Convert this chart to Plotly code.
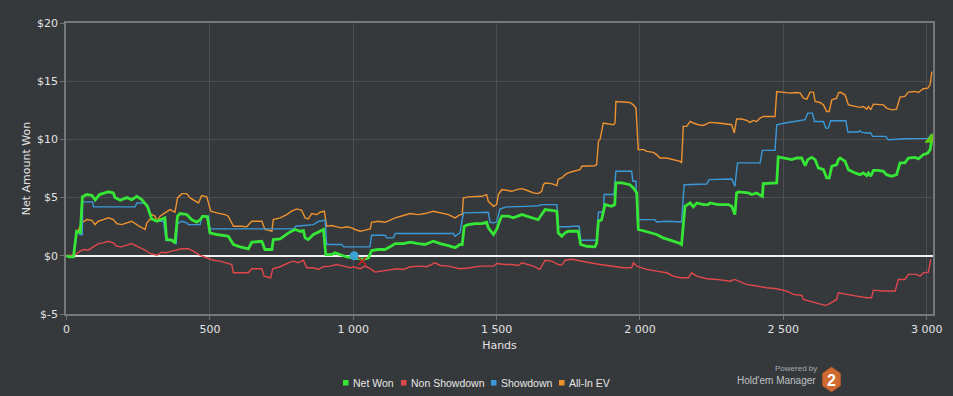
import plotly.graph_objects as go

# ---------------- data ----------------
net_won_hands = [0, 10, 24, 35, 48, 55, 70, 88, 100, 115, 146, 163, 169, 187, 210, 227, 245, 262, 282, 291, 297, 315, 332, 343, 349, 367, 378, 387, 396, 419, 437, 454, 466, 475, 491, 500, 524, 547, 564, 582, 605, 634, 646, 681, 692, 716, 721, 745, 774, 797, 814, 826, 832, 843, 861, 873, 884, 896, 904, 925, 936, 960, 977, 1006, 1035, 1053, 1064, 1087, 1111, 1128, 1146, 1175, 1198, 1227, 1250, 1279, 1303, 1332, 1355, 1372, 1380, 1387, 1401, 1425, 1448, 1465, 1471, 1489, 1500, 1512, 1518, 1541, 1558, 1588, 1605, 1622, 1645, 1657, 1669, 1692, 1710, 1715, 1727, 1739, 1750, 1785, 1793, 1814, 1843, 1849, 1855, 1866, 1878, 1901, 1912, 1916, 1936, 1965, 1977, 1989, 1994, 2018, 2035, 2058, 2081, 2099, 2116, 2134, 2145, 2157, 2175, 2186, 2198, 2221, 2238, 2244, 2273, 2308, 2320, 2331, 2337, 2343, 2378, 2390, 2407, 2419, 2427, 2430, 2471, 2477, 2482, 2506, 2529, 2547, 2564, 2576, 2585, 2599, 2611, 2622, 2640, 2651, 2660, 2669, 2686, 2692, 2698, 2715, 2727, 2750, 2767, 2779, 2791, 2797, 2805, 2814, 2831, 2849, 2860, 2878, 2895, 2907, 2924, 2936, 2959, 2971, 2988, 3004, 3012, 3018]
net_won_values = [0, -0.1, -0.1, 2.1, 2.0, 5.06, 5.26, 5.2, 4.8, 5.26, 5.5, 5.4, 5.0, 4.77, 5.0, 4.83, 5.1, 4.83, 4.25, 3.7, 3.17, 2.97, 3.17, 3.26, 1.4, 1.34, 1.1, 3.4, 3.63, 3.55, 3.1, 2.9, 3.1, 3.4, 3.35, 1.97, 1.83, 1.74, 1.68, 0.97, 0.77, 0.6, 1.17, 1.25, 0.54, 0.54, 1.4, 1.46, 1.97, 2.26, 2.11, 2.17, 1.54, 1.4, 1.83, 1.97, 2.1, 2.26, 0.11, 0.1, 0.26, 0.03, -0.1, -0.17, -0.3, -0.17, 0.45, 0.54, 0.54, 0.77, 1.05, 1.05, 1.17, 1.05, 0.97, 1.25, 1.05, 0.88, 0.69, 0.97, 0.97, 2.54, 2.68, 2.77, 2.77, 2.88, 2.4, 1.83, 2.26, 3.1, 3.4, 3.4, 3.26, 3.54, 3.4, 3.26, 3.1, 3.54, 3.97, 3.91, 3.83, 1.97, 1.68, 1.97, 2.11, 2.11, 0.97, 0.82, 0.77, 1.11, 2.97, 3.1, 4.4, 4.25, 4.4, 6.26, 6.26, 6.11, 5.83, 5.4, 2.26, 2.11, 1.97, 1.83, 1.54, 1.4, 1.25, 1.11, 0.97, 4.25, 4.54, 4.2, 4.54, 4.4, 4.4, 4.54, 4.4, 4.4, 4.25, 3.54, 5.4, 5.49, 5.4, 5.26, 5.4, 5.26, 5.1, 6.2, 6.26, 6.26, 8.49, 8.4, 8.26, 8.4, 8.4, 7.74, 8.26, 8.46, 8.26, 7.55, 7.4, 6.69, 6.69, 7.69, 7.83, 8.26, 8.4, 8.12, 7.4, 7.12, 6.97, 7.12, 6.89, 7.12, 6.83, 7.34, 7.34, 7.26, 6.97, 6.83, 6.97, 7.98, 7.98, 8.4, 8.46, 8.33, 8.69, 8.83, 9.12, 10.0]

non_showdown_hands = [0, 30, 47, 59, 75, 88, 99, 111, 128, 146, 163, 175, 192, 210, 227, 250, 274, 291, 315, 332, 349, 367, 384, 402, 425, 442, 466, 489, 512, 535, 559, 576, 582, 634, 646, 681, 689, 712, 719, 745, 774, 791, 808, 826, 838, 861, 878, 896, 919, 942, 966, 989, 1000, 1024, 1041, 1059, 1076, 1099, 1128, 1152, 1175, 1198, 1233, 1256, 1285, 1303, 1332, 1372, 1407, 1442, 1477, 1489, 1500, 1529, 1553, 1576, 1588, 1628, 1651, 1669, 1692, 1715, 1727, 1739, 1762, 1791, 1826, 1861, 1896, 1942, 1971, 1977, 1989, 2023, 2058, 2093, 2116, 2140, 2169, 2180, 2198, 2233, 2268, 2314, 2330, 2345, 2372, 2407, 2442, 2477, 2512, 2535, 2564, 2570, 2593, 2616, 2645, 2657, 2674, 2686, 2692, 2721, 2756, 2791, 2808, 2814, 2849, 2890, 2901, 2924, 2936, 2965, 2977, 2988, 3006, 3014]
non_showdown_values = [0, 0.1, 0.4, 0.54, 0.48, 0.69, 0.88, 1.05, 1.11, 1.25, 1.11, 0.82, 0.77, 0.88, 1.05, 0.77, 0.48, 0.2, 0.05, 0.31, 0.26, 0.4, 0.48, 0.6, 0.6, 0.4, 0.03, -0.17, -0.38, -0.46, -0.6, -0.75, -1.46, -1.46, -1.11, -1.11, -1.75, -1.89, -1.11, -0.94, -0.6, -0.46, -0.6, -0.38, -1.03, -1.03, -1.17, -0.94, -0.89, -0.75, -0.89, -1.03, -0.94, -1.11, -0.89, -1.11, -1.4, -1.32, -1.23, -1.11, -1.17, -0.94, -0.89, -0.94, -0.6, -0.83, -0.89, -1.11, -1.03, -0.89, -0.89, -0.89, -0.66, -0.75, -0.75, -0.83, -0.6, -0.89, -1.17, -0.38, -0.46, -0.75, -0.8, -0.38, -0.3, -0.46, -0.6, -0.75, -0.89, -1.03, -1.03, -0.6, -0.89, -1.17, -1.32, -1.46, -1.75, -1.89, -1.89, -1.46, -1.75, -1.97, -2.03, -2.18, -2.03, -2.18, -2.46, -2.6, -2.75, -2.83, -3.03, -3.32, -3.4, -3.75, -3.89, -4.09, -4.26, -4.18, -3.89, -3.75, -3.17, -3.32, -3.46, -3.6, -3.6, -2.95, -3.03, -3.03, -2.03, -2.03, -1.6, -1.6, -1.75, -1.46, -1.4, -0.3]

showdown_hands = [0, 10, 24, 35, 41, 48, 55, 56, 91, 94, 239, 245, 274, 285, 294, 309, 338, 347, 378, 382, 387, 402, 419, 425, 466, 471, 495, 500, 727, 790, 800, 861, 880, 902, 907, 960, 966, 1058, 1064, 1111, 1117, 1140, 1146, 1349, 1355, 1372, 1384, 1425, 1431, 1471, 1477, 1489, 1500, 1512, 1535, 1593, 1605, 1645, 1657, 1710, 1715, 1756, 1762, 1788, 1793, 1849, 1855, 1872, 1875, 1909, 1916, 1971, 1975, 1986, 1991, 2052, 2058, 2093, 2140, 2145, 2154, 2233, 2241, 2320, 2331, 2340, 2419, 2427, 2471, 2477, 2506, 2541, 2576, 2585, 2601, 2609, 2640, 2648, 2657, 2665, 2718, 2725, 2762, 2767, 2775, 2791, 2805, 2811, 2857, 2866, 2903, 2924, 3006, 3015, 3018]
showdown_values = [0, -0.1, -0.1, 2.1, 2.0, 1.8, 1.8, 4.63, 4.63, 4.2, 4.2, 4.54, 4.54, 4.2, 3.26, 2.97, 2.97, 1.31, 1.31, 0.97, 2.77, 2.97, 2.83, 2.68, 2.68, 3.4, 3.4, 2.31, 2.31, 2.31, 2.54, 2.68, 2.97, 3.05, 0.97, 0.97, 0.77, 0.77, 1.77, 1.77, 1.54, 1.54, 1.91, 1.91, 1.68, 1.97, 3.69, 3.69, 3.74, 3.74, 2.88, 2.83, 2.9, 4.03, 4.2, 4.2, 4.25, 4.3, 4.4, 4.4, 2.49, 2.49, 2.54, 2.54, 1.34, 1.34, 3.74, 3.74, 5.26, 5.26, 7.26, 7.26, 6.4, 6.4, 3.11, 3.11, 2.91, 2.97, 2.97, 2.91, 6.11, 6.17, 6.54, 6.6, 5.97, 7.98, 7.98, 9.06, 9.06, 11.26, 11.41, 11.54, 11.69, 12.26, 12.26, 11.54, 11.54, 10.97, 10.97, 11.6, 11.6, 10.63, 10.63, 10.75, 10.6, 10.55, 10.55, 10.26, 10.26, 9.97, 10.03, 10.06, 10.09, 10.4, 10.1]

all_in_ev_hands = [0, 10, 24, 35, 41, 48, 53, 70, 88, 99, 111, 128, 146, 163, 175, 192, 210, 227, 250, 262, 274, 280, 291, 297, 309, 315, 326, 343, 361, 378, 387, 402, 419, 431, 448, 460, 471, 489, 495, 503, 524, 553, 564, 582, 611, 628, 646, 681, 692, 716, 721, 745, 768, 785, 803, 820, 832, 843, 855, 873, 884, 899, 907, 925, 942, 960, 977, 995, 1006, 1024, 1041, 1059, 1064, 1087, 1111, 1128, 1146, 1175, 1198, 1227, 1250, 1279, 1303, 1332, 1355, 1372, 1380, 1384, 1401, 1425, 1448, 1465, 1471, 1489, 1500, 1506, 1518, 1535, 1553, 1570, 1588, 1605, 1628, 1645, 1657, 1663, 1669, 1692, 1710, 1715, 1727, 1739, 1750, 1768, 1791, 1797, 1826, 1843, 1849, 1855, 1861, 1872, 1907, 1913, 1916, 1954, 1965, 1977, 1986, 1994, 2014, 2023, 2047, 2058, 2070, 2093, 2105, 2122, 2140, 2145, 2151, 2163, 2175, 2186, 2203, 2221, 2238, 2244, 2273, 2297, 2320, 2329, 2337, 2355, 2372, 2384, 2395, 2407, 2419, 2430, 2471, 2477, 2506, 2524, 2547, 2559, 2570, 2582, 2593, 2605, 2611, 2628, 2640, 2651, 2660, 2669, 2686, 2692, 2698, 2715, 2727, 2750, 2767, 2779, 2791, 2797, 2805, 2814, 2831, 2849, 2860, 2878, 2895, 2907, 2924, 2936, 2959, 2971, 2988, 3004, 3012, 3018]
all_in_ev_values = [0, -0.1, -0.1, 2.1, 2.2, 2.5, 2.83, 3.11, 3.05, 2.68, 2.97, 3.11, 3.26, 3.11, 2.77, 2.68, 2.83, 2.97, 2.6, 2.4, 2.26, 2.83, 3.11, 3.54, 3.4, 2.97, 3.4, 3.69, 3.97, 3.74, 4.97, 5.34, 5.34, 4.97, 4.68, 4.54, 5.17, 5.06, 4.54, 3.83, 3.69, 3.54, 3.4, 2.54, 2.54, 2.49, 2.97, 2.97, 2.26, 2.11, 3.11, 3.26, 3.54, 3.83, 4.03, 3.91, 3.26, 3.17, 3.63, 3.54, 3.74, 3.83, 2.54, 2.6, 2.49, 2.4, 2.49, 2.4, 2.26, 2.11, 2.2, 2.31, 2.88, 2.97, 2.88, 3.05, 3.26, 3.46, 3.63, 3.54, 3.63, 3.83, 3.69, 3.54, 3.26, 3.54, 3.54, 4.97, 5.06, 5.11, 5.11, 5.26, 4.68, 4.25, 4.4, 5.26, 5.69, 5.63, 5.54, 5.69, 5.77, 5.63, 5.4, 5.34, 5.54, 6.11, 6.26, 6.2, 6.03, 6.6, 6.69, 6.97, 7.12, 7.26, 7.4, 7.69, 7.74, 7.74, 7.83, 9.83, 10.03, 11.41, 11.26, 11.41, 13.26, 13.17, 13.17, 12.97, 12.69, 9.12, 9.12, 8.97, 8.89, 8.69, 8.4, 8.4, 8.33, 8.2, 8.11, 7.98, 11.12, 11.12, 11.54, 11.41, 11.26, 11.2, 11.35, 11.46, 11.41, 11.35, 11.26, 10.55, 11.75, 11.75, 11.63, 11.46, 11.63, 11.54, 11.83, 11.97, 11.97, 14.12, 14.06, 13.98, 14.03, 13.98, 13.55, 13.46, 14.06, 14.06, 13.26, 13.17, 12.97, 12.4, 12.4, 13.4, 13.55, 13.98, 14.06, 13.83, 12.97, 12.83, 12.75, 12.83, 12.6, 12.83, 12.54, 13.03, 13.03, 12.97, 12.69, 12.54, 12.6, 13.63, 13.69, 14.06, 14.12, 14.03, 14.35, 14.41, 14.69, 15.83]

series_names = ["Net Won", "Non Showdown", "Showdown", "All-In EV"]
series_colors = ["#36e636", "#e0484c", "#3a9ad9", "#ee922f"]

marker_circle_hand = [1003]
marker_circle_value = [0]
marker_cross_hand = [1031]
marker_cross_value = [-0.45]

x_tick_values = [0, 500, 1000, 1500, 2000, 2500, 3000]
x_tick_labels = ["0", "500", "1 000", "1 500", "2 000", "2 500", "3 000"]
y_tick_values = [-5, 0, 5, 10, 15, 20]
y_tick_labels = ["$-5", "$0", "$5", "$10", "$15", "$20"]

# ---------------- figure ----------------
W, H = 953, 396
ML, MR, MT, MB = 66, 20, 23, 82
PW, PH = W - ML - MR, H - MT - MB
BG = "#36393c"
FONT = "DejaVu Sans"
LFONT = "Liberation Sans"


def px_x(px):
    return (px - ML) / PW


def px_y(py):
    return (H - MB - py) / PH


fig = go.Figure()

fig.add_trace(go.Scatter(x=non_showdown_hands, y=non_showdown_values, mode="lines",
                         line=dict(color=series_colors[1], width=1.4), name=series_names[1],
                         showlegend=False, hoverinfo="skip"))
fig.add_trace(go.Scatter(x=all_in_ev_hands, y=all_in_ev_values, mode="lines",
                         line=dict(color=series_colors[3], width=1.4), name=series_names[3],
                         showlegend=False, hoverinfo="skip"))
fig.add_trace(go.Scatter(x=showdown_hands, y=showdown_values, mode="lines",
                         line=dict(color=series_colors[2], width=1.4), name=series_names[2],
                         showlegend=False, hoverinfo="skip"))
fig.add_trace(go.Scatter(x=net_won_hands, y=net_won_values, mode="lines",
                         line=dict(color=series_colors[0], width=2.8), name=series_names[0],
                         showlegend=False, hoverinfo="skip"))
# end marker of Net Won
fig.add_trace(go.Scatter(x=[net_won_hands[-1]], y=[net_won_values[-1]], mode="markers",
                         marker=dict(symbol="triangle-up", size=13, color="#5fcc12"),
                         showlegend=False, hoverinfo="skip"))
fig.add_trace(go.Scatter(x=marker_circle_hand, y=marker_circle_value, mode="markers",
                         marker=dict(symbol="circle", size=9, color="#3aa3d0"),
                         showlegend=False, hoverinfo="skip"))
fig.add_trace(go.Scatter(x=marker_cross_hand, y=marker_cross_value, mode="markers",
                         marker=dict(symbol="x-thin", size=8, line=dict(color="#cc1f1f", width=1.5)),
                         showlegend=False, hoverinfo="skip"))

axis_common = dict(
    showgrid=True, gridcolor="#4b4e52", gridwidth=1,
    showline=True, linecolor="#75787b", linewidth=1.5, mirror=True,
    ticks="outside", ticklen=4, tickcolor="#6e7174",
    tickfont=dict(family=FONT, size=11, color="#e2e2e2"),
)

fig.update_xaxes(range=[-2, 3022], tickmode="array", tickvals=x_tick_values,
                 ticktext=x_tick_labels, zeroline=False,
                 title=dict(text="Hands", font=dict(family=FONT, size=11, color="#e2e2e2"), standoff=6),
                 **axis_common)
fig.update_yaxes(range=[-5, 20], tickmode="array", tickvals=y_tick_values,
                 ticktext=y_tick_labels, zeroline=True, zerolinecolor="#f2f2f2", zerolinewidth=2.4,
                 title=dict(text="Net Amount Won", font=dict(family=FONT, size=11, color="#e2e2e2"), standoff=4),
                 **axis_common)

shapes = []
annotations = []

# legend (custom, to match compact square markers)
legend_square_px = [343, 401, 491, 559]
legend_y = 382.5
for name, color, sx in zip(series_names, series_colors, legend_square_px):
    shapes.append(dict(type="rect", xref="paper", yref="paper",
                       x0=px_x(sx), x1=px_x(sx + 5.5), y0=px_y(legend_y + 3), y1=px_y(legend_y - 2.5),
                       fillcolor=color, line=dict(width=0)))
    annotations.append(dict(text=name, xref="paper", yref="paper", x=px_x(sx + 8), y=px_y(legend_y),
                            xanchor="left", yanchor="middle", showarrow=False,
                            font=dict(family=LFONT, size=10.5, color="#e6e6e6")))

# "Powered by Hold'em Manager 2" logo
annotations.append(dict(text="Powered by", xref="paper", yref="paper", x=px_x(819), y=px_y(368.5),
                        xanchor="right", yanchor="middle", showarrow=False,
                        font=dict(family=LFONT, size=8, color="#a9abad")))
annotations.append(dict(text="Hold'em Manager", xref="paper", yref="paper", x=px_x(818), y=px_y(380.5),
                        xanchor="right", yanchor="middle", showarrow=False,
                        font=dict(family=LFONT, size=10, color="#bfc1c3")))
cx, cy, hw, hr = 831.5, 379.5, 8.8, 12.3
hex_pts = [(cx, cy - hr), (cx + hw, cy - hr / 2), (cx + hw, cy + hr / 2),
           (cx, cy + hr), (cx - hw, cy + hr / 2), (cx - hw, cy - hr / 2)]
path = "M " + " L ".join(f"{px_x(a):.5f},{px_y(b):.5f}" for a, b in hex_pts) + " Z"
shapes.append(dict(type="path", xref="paper", yref="paper", path=path,
                   fillcolor="#cf6a30", line=dict(color="#b9592a", width=1)))
annotations.append(dict(text="<b>2</b>", xref="paper", yref="paper", x=px_x(cx), y=px_y(cy + 0.5),
                        xanchor="center", yanchor="middle", showarrow=False,
                        font=dict(family=LFONT, size=16, color="#ffffff")))

fig.update_layout(
    width=W, height=H,
    margin=dict(l=ML, r=MR, t=MT, b=MB, autoexpand=False),
    paper_bgcolor=BG, plot_bgcolor=BG,
    showlegend=False,
    shapes=shapes, annotations=annotations,
    font=dict(family=FONT, color="#e2e2e2"),
)

fig.write_html("out.html", config={"displayModeBar": False},
               post_script="document.body.style.margin='0px';document.body.style.background='%s';" % BG)
